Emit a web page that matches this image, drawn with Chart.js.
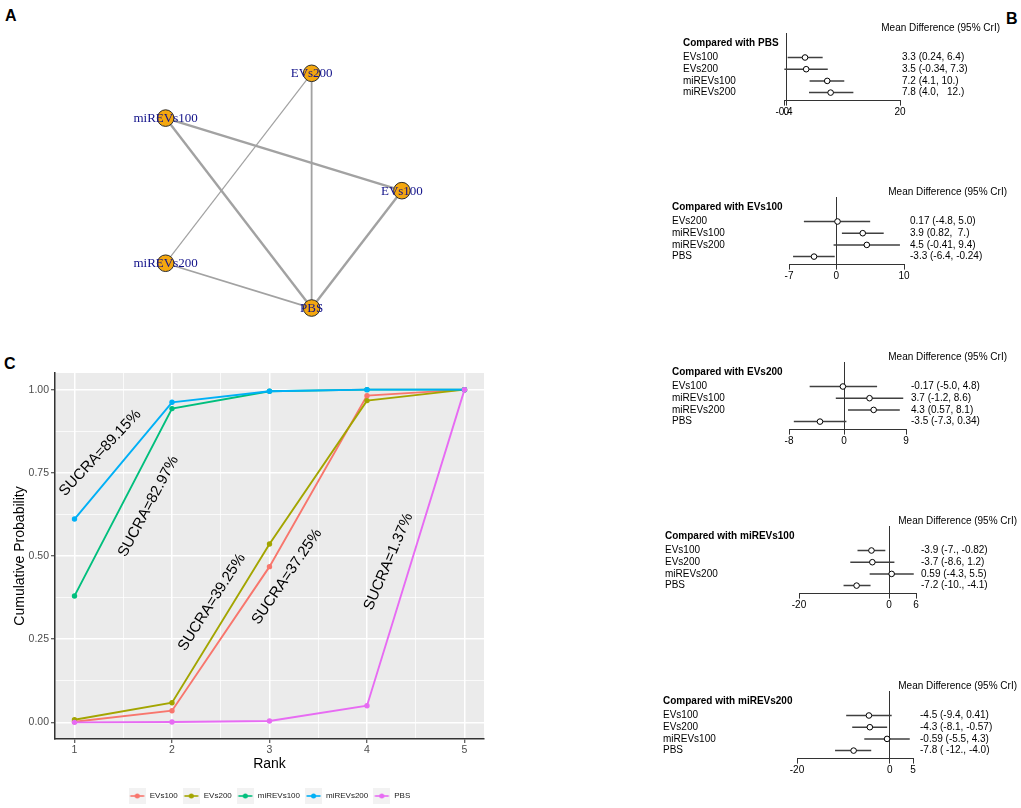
<!DOCTYPE html>
<html><head><meta charset="utf-8">
<script src="https://cdn.jsdelivr.net/npm/chart.js@4.4.0/dist/chart.umd.min.js"></script>
<style>
html,body{margin:0;padding:0;background:#fff;}
body{width:1021px;height:808px;position:relative;overflow:hidden;}
canvas{position:absolute;}
.lbl{position:absolute;font:bold 16px 'Liberation Sans',Arial,sans-serif;line-height:16px;color:#000;}
</style></head><body>
<div class="lbl" style="left:5px;top:8px">A</div>
<div class="lbl" style="left:1006px;top:11px">B</div>
<div class="lbl" style="left:4px;top:356px">C</div>
<canvas id="net" width="460" height="340" style="left:0;top:0"></canvas>
<canvas id="rank" width="490" height="449" style="left:0;top:361px"></canvas>
<script>
// ================= DATA =================
// Panel A: network (circle layout coordinates, edges and number of studies)
const nodeNames = ['EVs100','EVs200','miREVs100','miREVs200','PBS'];
const nodeLayoutX = [1.000, 0.309, -0.809, -0.809, 0.309];
const nodeLayoutY = [0.000, 0.951, 0.588, -0.588, -0.951];
const edgeFrom = ['miREVs100','miREVs100','EVs100','EVs200','miREVs200','EVs200'];
const edgeTo   = ['EVs100','PBS','PBS','PBS','PBS','miREVs200'];
const edgeStudies = [3,3,3,2,2,1];

// Panel B: forest plots
const forestTitles = ['Compared with PBS','Compared with EVs100','Compared with EVs200','Compared with miREVs100','Compared with miREVs200'];
const forestRows = [
  ['EVs100','EVs200','miREVs100','miREVs200'],
  ['EVs200','miREVs100','miREVs200','PBS'],
  ['EVs100','miREVs100','miREVs200','PBS'],
  ['EVs100','EVs200','miREVs200','PBS'],
  ['EVs100','EVs200','miREVs100','PBS']
];
const forestMean  = [[3.3,3.5,7.2,7.8],[0.17,3.9,4.5,-3.3],[-0.17,3.7,4.3,-3.5],[-3.9,-3.7,0.59,-7.2],[-4.5,-4.3,-0.59,-7.8]];
const forestLower = [[0.24,-0.34,4.1,4.0],[-4.8,0.82,-0.41,-6.4],[-5.0,-1.2,0.57,-7.3],[-7.0,-8.6,-4.3,-10.1],[-9.4,-8.1,-5.5,-11.8]];
const forestUpper = [[6.4,7.3,10.2,11.8],[5.0,7.0,9.4,-0.24],[4.8,8.6,8.1,0.34],[-0.82,1.2,5.5,-4.1],[0.41,-0.57,4.3,-4.0]];
const forestText = [
  ['3.3 (0.24, 6.4)','3.5 (-0.34, 7.3)','7.2 (4.1, 10.)','7.8 (4.0,   12.)'],
  ['0.17 (-4.8, 5.0)','3.9 (0.82,  7.)','4.5 (-0.41, 9.4)','-3.3 (-6.4, -0.24)'],
  ['-0.17 (-5.0, 4.8)','3.7 (-1.2, 8.6)','4.3 (0.57, 8.1)','-3.5 (-7.3, 0.34)'],
  ['-3.9 (-7., -0.82)','-3.7 (-8.6, 1.2)','0.59 (-4.3, 5.5)','-7.2 (-10., -4.1)'],
  ['-4.5 (-9.4, 0.41)','-4.3 (-8.1, -0.57)','-0.59 (-5.5, 4.3)','-7.8 ( -12., -4.0)']
];
const forestTicks = [[-0.4,0,20],[-7,0,10],[-8,0,9],[-20,0,6],[-20,0,5]];
const forestHeader = 'Mean Difference (95% CrI)';

// Panel C: cumulative rank probabilities
const rankLabels = [1,2,3,4,5];
const seriesNames = ['EVs100','EVs200','miREVs100','miREVs200','PBS'];
const cumEVs100    = [0.002, 0.035, 0.468, 0.982, 1.000];
const cumEVs200    = [0.008, 0.059, 0.536, 0.967, 1.000];
const cumMiREVs100 = [0.380, 0.943, 0.995, 1.000, 1.000];
const cumMiREVs200 = [0.611, 0.962, 0.995, 1.000, 1.000];
const cumPBS       = [0.000, 0.001, 0.004, 0.050, 1.000];
const yMajorTicks = [0, 0.25, 0.5, 0.75, 1];
const sucraText = ['SUCRA=89.15%','SUCRA=82.97%','SUCRA=39.25%','SUCRA=37.25%','SUCRA=1.37%'];

// ================= STYLE / LAYOUT =================
Chart.defaults.font.family = "'Liberation Sans', Arial, Helvetica, sans-serif";
Chart.defaults.color = '#000';
const seriesColors = ['#F8766D','#A3A500','#00BF7D','#00B0F6','#E76BF3'];
const cumSeries = [cumEVs100, cumEVs200, cumMiREVs100, cumMiREVs200, cumPBS];
const sucraPlacement = [
  {rank:1.264, prob:0.810, angle:-47},
  {rank:1.759, prob:0.649, angle:-62},
  {rank:2.410, prob:0.361, angle:-57.5},
  {rank:3.179, prob:0.438, angle:-55.6},
  {rank:4.221, prob:0.483, angle:-67}
];
const baseOpts = {responsive:false, animation:false, events:[]};

// ================= PANEL A =================
(function(){
  const idx = n => nodeNames.indexOf(n);
  const ds = edgeFrom.map((f,i) => ({
    data:[{x:nodeLayoutX[idx(f)], y:nodeLayoutY[idx(f)]},{x:nodeLayoutX[idx(edgeTo[i])], y:nodeLayoutY[idx(edgeTo[i])]}],
    showLine:true, borderColor:'#a2a2a2', borderWidth:0.6*(edgeStudies[i]+1), pointRadius:0, order:1
  }));
  ds.push({data:nodeNames.map((n,i)=>({x:nodeLayoutX[i], y:nodeLayoutY[i]})),
    pointRadius:8.3, backgroundColor:'#F4A70F', borderColor:'#2b2b2b', borderWidth:1, order:0});
  const labels = {id:'netLabels', afterDatasetsDraw(chart){
    const meta = chart.getDatasetMeta(chart.data.datasets.length-1);
    const ctx = chart.ctx; ctx.save();
    ctx.font = "13px 'Liberation Serif','Times New Roman',serif";
    ctx.fillStyle = '#12128a'; ctx.textAlign='center'; ctx.textBaseline='middle';
    meta.data.forEach((pt,i)=>ctx.fillText(nodeNames[i], pt.x, pt.y+0.5));
    ctx.restore();
  }};
  new Chart(document.getElementById('net'), {
    type:'scatter', data:{datasets:ds}, plugins:[labels],
    options:Object.assign({}, baseOpts, {
      layout:{padding:0, autoPadding:false},
      plugins:{legend:{display:false}, tooltip:{enabled:false}},
      scales:{x:{type:'linear', display:false, min:-2.077, max:1.445},
              y:{type:'linear', display:false, min:-1.210, max:1.545}}
    })
  });
})();

// ================= PANEL B =================
const forestLayout = [
  {T:43,  labelX:683, axisL:784, axisR:900, valuesX:902, headerLeft:881},
  {T:207, labelX:672, axisL:789, axisR:904, valuesX:910, headerLeft:888},
  {T:372, labelX:672, axisL:789, axisR:906, valuesX:911, headerLeft:888},
  {T:536, labelX:665, axisL:799, axisR:916, valuesX:921, headerLeft:898},
  {T:701, labelX:663, axisL:797, axisR:913, valuesX:920, headerLeft:898}
];
const ROW_GAP = 11.7, TITLE_GAP = 14.5;
const yMinRow = -(TITLE_GAP + 10) / ROW_GAP;
const yMaxRow = (3*ROW_GAP + 8) / ROW_GAP;
const titleRow = -TITLE_GAP / ROW_GAP;
const plotH = 67.6;

forestLayout.forEach((L, k) => {
  const cv = document.createElement('canvas');
  const W = Math.round(L.headerLeft + 119 - L.labelX), H = 105;
  cv.width = W; cv.height = H;
  cv.style.left = L.labelX + 'px'; cv.style.top = (L.T - 25) + 'px';
  document.body.appendChild(cv);
  const rowIdx = forestRows[k].map((_, i) => i);
  const tk = forestTicks[k];
  new Chart(cv, {
    type:'scatter',
    data:{datasets:[
      {data: rowIdx.flatMap(i => [{x:forestLower[k][i], y:i},{x:forestUpper[k][i], y:i},{x:forestUpper[k][i], y:null}]),
       showLine:true, spanGaps:false, borderColor:'#404040', borderWidth:1.5, pointRadius:0, order:1},
      {data: rowIdx.map(i => ({x:forestMean[k][i], y:i})),
       pointRadius:2.8, backgroundColor:'#fff', borderColor:'#000', borderWidth:1, order:0}
    ]},
    options:Object.assign({}, baseOpts, {
      layout:{padding:0, autoPadding:false},
      plugins:{legend:{display:false}, tooltip:{enabled:false},
        title:{display:true, text:forestHeader, align:'end', color:'#000',
               font:{size:10, weight:'normal', lineHeight:1.2}, padding:{top:4, bottom:-1}}},
      scales:{
        x:{type:'linear', min:tk[0], max:tk[tk.length-1],
           afterBuildTicks: s => { s.ticks = tk.map(v => ({value:v})); },
           afterFit: s => { s.height = H - 15 - plotH; },
           grid:{display:true, drawOnChartArea:true, drawTicks:true, tickLength:5,
                 color: c => (c.tick && c.tick.value === 0) ? '#333' : 'rgba(0,0,0,0)',
                 lineWidth:1, tickColor:'#333', tickWidth:1},
           border:{display:true, color:'#333', width:1},
           ticks:{autoSkip:false, maxRotation:0, minRotation:0, padding:0.5, color:'#000', font:{size:10},
                  callback: v => String(v)}},
        y:{type:'linear', position:'left', reverse:true, min:yMinRow, max:yMaxRow,
           afterBuildTicks: s => { s.ticks = [titleRow].concat(rowIdx).map(v => ({value:v})); },
           afterFit: s => { s.width = L.axisL - L.labelX; },
           grid:{display:false, drawTicks:false}, border:{display:false},
           ticks:{autoSkip:false, crossAlign:'far', padding:0, color:'#000',
                  font: c => (c.index === 0 ? {size:10, weight:'bold'} : {size:10, weight:'normal'}),
                  callback: (v, i) => i === 0 ? forestTitles[k] : forestRows[k][i-1]}},
        y2:{type:'linear', position:'right', reverse:true, min:yMinRow, max:yMaxRow,
           afterBuildTicks: s => { s.ticks = rowIdx.map(v => ({value:v})); },
           afterFit: s => { s.width = W - (L.axisR - L.labelX); },
           grid:{display:false, drawTicks:false}, border:{display:false},
           ticks:{autoSkip:false, crossAlign:'near', padding:L.valuesX - L.axisR, color:'#000', font:{size:10},
                  callback: (v, i) => forestText[k][i]}}
      }
    })
  });
});

// ================= PANEL C =================
(function(){
  const minorRanks = rankLabels.slice(1).map((r,i) => (r + rankLabels[i]) / 2);
  const xTicks = rankLabels.concat(minorRanks).sort((a,b)=>a-b);
  const yMinor = yMajorTicks.slice(1).map((v,i) => (v + yMajorTicks[i]) / 2);
  const yTicks = yMajorTicks.concat(yMinor).sort((a,b)=>a-b);
  const isMajX = v => rankLabels.includes(v);
  const isMajY = v => yMajorTicks.includes(v);

  function makeKey(color){
    const c = document.createElement('canvas'); c.width = 17; c.height = 16;
    const g = c.getContext('2d');
    g.fillStyle = '#F2F2F2'; g.fillRect(0,0,17,16);
    g.strokeStyle = color; g.lineWidth = 1.6;
    g.beginPath(); g.moveTo(1.5,8); g.lineTo(15.5,8); g.stroke();
    g.fillStyle = color; g.beginPath(); g.arc(8.5,8,2.5,0,Math.PI*2); g.fill();
    return c;
  }
  const keys = seriesColors.map(makeKey);

  const bg = {id:'panelBg', beforeDraw(chart){
    const a = chart.chartArea, ctx = chart.ctx;
    ctx.save(); ctx.fillStyle = '#EBEBEB'; ctx.fillRect(a.left, a.top, a.right-a.left, a.bottom-a.top); ctx.restore();
  }};
  const sucra = {id:'sucra', afterDatasetsDraw(chart){
    const ctx = chart.ctx, xs = chart.scales.x, ys = chart.scales.y;
    ctx.save();
    ctx.font = "15px 'Liberation Sans', Arial, sans-serif";
    ctx.fillStyle = '#000'; ctx.textAlign = 'center'; ctx.textBaseline = 'middle';
    sucraText.forEach((t,i) => {
      const p = sucraPlacement[i];
      ctx.save();
      ctx.translate(xs.getPixelForValue(p.rank), ys.getPixelForValue(p.prob));
      ctx.rotate(p.angle * Math.PI / 180);
      ctx.fillText(t, 0, 0);
      ctx.restore();
    });
    ctx.restore();
  }};

  const datasets = seriesNames.map((n,i) => ({
    label:n, data: rankLabels.map((r,j) => ({x:r, y:cumSeries[i][j]})),
    showLine:true, borderColor:seriesColors[i], backgroundColor:seriesColors[i],
    borderWidth:1.9, pointRadius:2.7, pointBorderWidth:0, order:5-i
  }));

  new Chart(document.getElementById('rank'), {
    type:'scatter', data:{datasets}, plugins:[bg, sucra],
    options:Object.assign({}, baseOpts, {
      layout:{padding:{top:12, right:6, bottom:0, left:0}, autoPadding:false},
      plugins:{tooltip:{enabled:false},
        legend:{display:true, position:'bottom', fullSize:false, align:'center',
          labels:{font:{size:8}, color:'#1a1a1a', usePointStyle:true, pointStyleWidth:17, boxHeight:8, padding:5,
            generateLabels: ch => ch.data.datasets.map((d,i) => ({text:d.label, pointStyle:keys[i],
              fillStyle:seriesColors[i], strokeStyle:seriesColors[i], lineWidth:0, hidden:false, datasetIndex:i, fontColor:'#1a1a1a'}))}}},
      scales:{
        x:{type:'linear', min:0.8, max:5.2,
           afterBuildTicks: s => { s.ticks = xTicks.map(v => ({value:v})); },
           afterFit: s => { s.height = 48; },
           grid:{color:'#fff', lineWidth: c => (c.tick && isMajX(c.tick.value)) ? 1.5 : 0.75,
                 drawTicks:true, tickLength:4,
                 tickColor: c => (c.tick && isMajX(c.tick.value)) ? '#333' : 'rgba(0,0,0,0)', tickWidth:1},
           border:{display:true, color:'#333', width:1.5},
           ticks:{autoSkip:false, maxRotation:0, minRotation:0, padding:0.7, color:'#4D4D4D', font:{size:10.5},
                  callback: v => isMajX(v) ? String(v) : ''},
           title:{display:true, text:'Rank', color:'#000', font:{size:14}, padding:{top:0, bottom:14.6}}},
        y:{type:'linear', min:-0.05, max:1.05,
           afterBuildTicks: s => { s.ticks = yTicks.map(v => ({value:v})); },
           afterFit: s => { s.width = 55; },
           grid:{color:'#fff', lineWidth: c => (c.tick && isMajY(c.tick.value)) ? 1.5 : 0.75,
                 drawTicks:true, tickLength:4,
                 tickColor: c => (c.tick && isMajY(c.tick.value)) ? '#333' : 'rgba(0,0,0,0)', tickWidth:1},
           border:{display:true, color:'#333', width:1.5},
           ticks:{autoSkip:false, padding:2, color:'#4D4D4D', font:{size:10.5},
                  callback: v => isMajY(v) ? v.toFixed(2) : ''},
           title:{display:true, text:'Cumulative Probability', color:'#000', font:{size:14}, padding:{top:11.6, bottom:0}}}
      }
    })
  });
})();
</script>
</body></html>
